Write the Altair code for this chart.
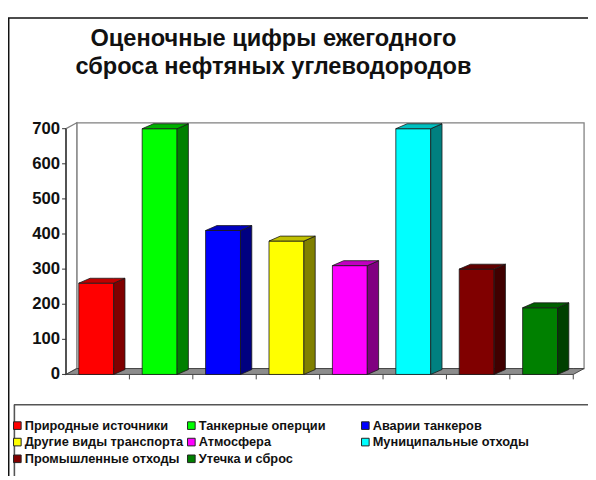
import altair as alt
import pandas as pd

# ---------------- data ----------------
categories = ["Природные источники", "Танкерные оперции", "Аварии танкеров",
              "Другие виды транспорта", "Атмосфера", "Муниципальные отходы",
              "Промышленные отходы", "Утечка и сброс"]
values = [260, 700, 410, 380, 310, 700, 300, 190]
front_colors = ["#ff0000", "#00ff00", "#0000ff", "#ffff00",
                "#ff00ff", "#00ffff", "#800000", "#008000"]
side_colors = ["#800000", "#008000", "#000080", "#808000",
               "#800080", "#008080", "#400000", "#004000"]
top_colors = ["#c00000", "#00b000", "#0000c0", "#c0c000",
              "#c000c0", "#00c0c0", "#600000", "#006000"]
y_ticks = [0, 100, 200, 300, 400, 500, 600, 700]
title_lines = ["Оценочные цифры ежегодного", "сброса нефтяных углеводородов"]

# ---------------- geometry ----------------
W, H = 590, 472
X_RANGE = [59, 575]
Y_RANGE = [368.7, 118.7]
Y_MAX = 700
N = len(categories)
PXB = (X_RANGE[1] - X_RANGE[0]) / N      # px per band
PXU = (Y_RANGE[0] - Y_RANGE[1]) / Y_MAX  # px per value unit
BAR_OFF = 13 / PXB
BAR_W = 35.5 / PXB
BDX = 11.5 / PXB
BDY = 5 / PXU
WDX = 11 / PXB
WDY = 6 / PXU

front_rows, side_rows, top_rows = [], [], []
for i, (c, v) in enumerate(zip(categories, values)):
    x1 = i + BAR_OFF
    x2 = x1 + BAR_W
    front_rows.append({"cat": c, "x1": x1, "x2": x2, "y0": 0, "v": v})
    side_rows += [{"cat": c, "col": side_colors[i], "x": x2, "lo": 0, "hi": v},
                  {"cat": c, "col": side_colors[i], "x": x2 + BDX, "lo": BDY, "hi": v + BDY}]
    top_rows += [{"cat": c, "col": top_colors[i], "x": x1, "lo": v, "hi": v},
                 {"cat": c, "col": top_colors[i], "x": x1 + BDX, "lo": v, "hi": v + BDY},
                 {"cat": c, "col": top_colors[i], "x": x2, "lo": v, "hi": v + BDY},
                 {"cat": c, "col": top_colors[i], "x": x2 + BDX, "lo": v + BDY, "hi": v + BDY}]
front_df = pd.DataFrame(front_rows)
side_df = pd.DataFrame(side_rows)
top_df = pd.DataFrame(top_rows)

back_df = pd.DataFrame({"x1": [WDX], "x2": [N + WDX], "y1": [WDY], "y2": [Y_MAX + WDY]})
lw_df = pd.DataFrame({"x": [0, WDX], "lo": [0, WDY], "hi": [Y_MAX, Y_MAX + WDY]})
fl_df = pd.DataFrame({"x": [0, WDX, N, N + WDX], "lo": [0, 0, 0, WDY],
                      "hi": [0, WDY, WDY, WDY]})
yt_df = pd.DataFrame({"t": y_ticks})
xt_df = pd.DataFrame({"b": list(range(1, N + 1)), "y0": [0] * N})
axis_df = pd.DataFrame({"lo": [0], "hi": [Y_MAX], "x": [0]})
dummy = pd.DataFrame({"d": [0]})

# legend: Vega fills legend columns top-to-bottom; reorder so rows read like the reference
ROWS = 3
legend_order = []
for col in range(3):
    for r in range(ROWS):
        k = r * 3 + col
        if k < N:
            legend_order.append(k)
legend_domain = [categories[k] for k in legend_order]
legend_range = [front_colors[k] for k in legend_order]

FONT = "Liberation Sans"
xs = alt.Scale(domain=[0, N], range=X_RANGE, nice=False, zero=False)
ys = alt.Scale(domain=[0, Y_MAX], range=Y_RANGE, nice=False, zero=False)


def X(f):
    return alt.X(f, type="quantitative", scale=xs, axis=None)


def Y(f):
    return alt.Y(f, type="quantitative", scale=ys, axis=None, stack=None)


back_wall = alt.Chart(back_df).mark_rect(fill="white", stroke="#808080", strokeWidth=1.3).encode(
    x=X("x1"), x2="x2", y=Y("y1"), y2="y2")
left_wall = alt.Chart(lw_df).mark_area(fill="white", stroke="#808080", strokeWidth=1.3).encode(
    x=X("x"), y=Y("lo"), y2="hi")
floor = alt.Chart(fl_df).mark_area(fill="#8c8c8c", stroke="#444", strokeWidth=1).encode(
    x=X("x"), y=Y("lo"), y2="hi")

# axes drawn from the scales
y_line = alt.Chart(axis_df).mark_rule(color="#333", strokeWidth=1.5).encode(
    x=X("x"), y=Y("lo"), y2="hi")
y_tick_marks = alt.Chart(yt_df).mark_rule(color="#333", strokeWidth=1).encode(
    y=Y("t"), x=alt.value(X_RANGE[0] - 4), x2=alt.value(X_RANGE[0]))
y_labels = alt.Chart(yt_df).mark_text(align="right", baseline="middle", font=FONT,
                                      fontSize=17, fontWeight="bold", color="#111").encode(
    y=Y("t"), x=alt.value(X_RANGE[0] - 6), text="t:Q")
x_tick_marks = alt.Chart(xt_df).mark_rule(color="#444", strokeWidth=1).encode(
    x=X("b"), y=Y("y0"), y2=alt.value(Y_RANGE[0] + 5))

front = alt.Chart(front_df).mark_rect(stroke="#1a1a1a", strokeWidth=0.8).encode(
    x=X("x1"), x2="x2", y=Y("y0"), y2="v",
    fill=alt.Fill("cat:N", title=None,
                  scale=alt.Scale(domain=legend_domain, range=legend_range),
                  legend=alt.Legend(orient="none", legendX=3, legendY=414, columns=3,
                                    symbolType="square", symbolSize=60,
                                    symbolStrokeColor="#222", symbolStrokeWidth=1,
                                    labelFont=FONT, labelFontSize=13, labelFontWeight="bold",
                                    labelColor="#111", columnPadding=1, rowPadding=3,
                                    gridAlign="all", labelLimit=300, padding=0,
                                    labelOffset=1)))
side = alt.Chart(side_df).mark_area(stroke="#1a1a1a", strokeWidth=0.8).encode(
    x=X("x"), y=Y("lo"), y2="hi", fill=alt.Fill("col:N", scale=None), detail="cat:N")
top = alt.Chart(top_df).mark_area(stroke="#1a1a1a", strokeWidth=0.8).encode(
    x=X("x"), y=Y("lo"), y2="hi", fill=alt.Fill("col:N", scale=None), detail="cat:N")

frame_top = alt.Chart(dummy).mark_rule(color="#111", strokeWidth=1.5).encode(
    x=alt.value(0), x2=alt.value(W), y=alt.value(6))
frame_left = alt.Chart(dummy).mark_rule(color="#111", strokeWidth=1.5).encode(
    x=alt.value(0.75), y=alt.value(6), y2=alt.value(H))
leg_top = alt.Chart(dummy).mark_rule(color="#555", strokeWidth=1.6).encode(
    x=alt.value(6), x2=alt.value(W), y=alt.value(399.5))
leg_left = alt.Chart(dummy).mark_rule(color="#555", strokeWidth=1.6).encode(
    x=alt.value(6.5), y=alt.value(399.5), y2=alt.value(H))

chart = alt.layer(
    back_wall, left_wall, floor, x_tick_marks, y_line, y_tick_marks, y_labels,
    front, side, top,
    frame_top, frame_left, leg_top, leg_left
).resolve_scale(fill="independent").properties(
    width=W, height=H, padding=0, autosize="none",
    title=alt.TitleParams(text=title_lines, font=FONT, fontSize=24, fontWeight="bold",
                          color="#111", anchor="middle", frame="group",
                          offset=-68, dx=-25, lineHeight=28)
).configure_view(stroke="transparent")

chart.save("out.html", embed_options={"renderer": "svg", "actions": False})
